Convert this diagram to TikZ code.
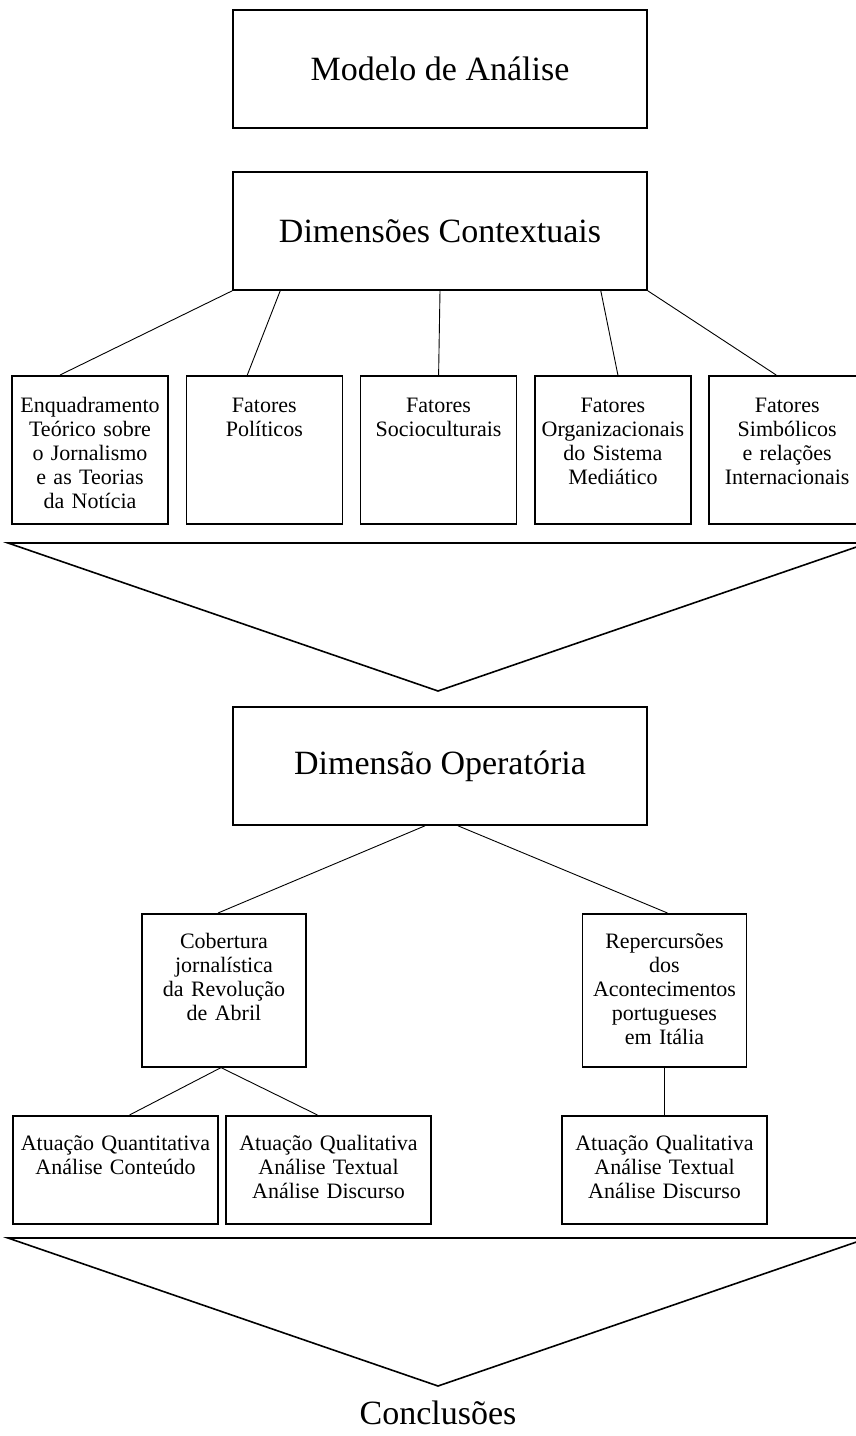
\documentclass[tikz,border=0pt]{standalone}
\usepackage{fontspec}
\setmainfont{Liberation Serif}
\usetikzlibrary{calc}
\usetikzlibrary{positioning}

\tikzset{
  bigbox/.style={draw, line width=1.6pt, minimum width=414pt, minimum height=118pt, inner sep=0pt, font=\fontsize{34}{40}\selectfont},
  factor/.style={draw, line width=1.6pt, anchor=north, text width=150pt, align=center, inner xsep=3pt, inner ysep=0pt, text height=37pt, text depth=111pt, font=\fontsize{22}{24}\selectfont},
  theme/.style={factor, text width=158pt, text height=35pt, text depth=118pt},
  method/.style={factor, text width=199pt, text height=35pt, text depth=73pt},
  link/.style={line width=0.9pt},
  funnel/.style={line width=1.6pt}
}

\begin{document}
\begin{tikzpicture}[x=1pt, y=-1pt]
\useasboundingbox (0,0) rectangle (856,1436);
\clip (0,0) rectangle (856,1436);
% top
\node[bigbox] (modelo) at (440,69) {Modelo de Análise};
\node[bigbox] (dc) at (440,231) {Dimensões Contextuais};
% contextual factors
\node[factor] (f1) at (90,375) {Enquadramento\\Teórico sobre\\o Jornalismo\\e as Teorias\\da Notícia};
\node[factor, right=16.7pt of f1] (f2) {Fatores\\Políticos};
\node[factor, right=16.7pt of f2] (f3) {Fatores\\Socioculturais};
\node[factor, right=16.7pt of f3] (f4) {Fatores\\Organizacionais\\do Sistema\\Mediático};
\node[factor, right=16.7pt of f4] (f5) {Fatores\\Simbólicos\\e relações\\Internacionais};
\draw[link] (dc.south west) -- ($(f1.north)+(-30,0)$);
\draw[link] ($(dc.south west)+(48,0)$) -- ($(f2.north)+(-17,0)$);
\draw[link] (dc.south) -- (f3.north);
\draw[link] ($(dc.south east)+(-47,0)$) -- ($(f4.north)+(5,0)$);
\draw[link] (dc.south east) -- ($(f5.north)+(-11,0)$);
% first funnel
\coordinate (t1l) at (8,543);
\coordinate (t1r) at (868,543);
\coordinate (t1v) at (438,691);
\draw[funnel] (t1l) -- (t1r) -- (t1v) -- cycle;
% operative dimension
\node[bigbox] (op) at (440,766) {Dimensão Operatória};
\node[theme] (cob) at (224,913) {Cobertura\\jornalística\\da Revolução\\de Abril};
\node[theme] (rep) at (664.5,913) {Repercursões\\dos\\Acontecimentos\\portugueses\\em Itália};
\draw[link] ($(op.south)+(-15,0)$) -- ($(cob.north)+(-6,0)$);
\draw[link] ($(op.south)+(18,0)$) -- ($(rep.north)+(3,0)$);
\node[method] (ma) at (115.5,1115) {Atuação Quantitativa\\Análise Conteúdo};
\node[method, right=6.4pt of ma] (mb) {Atuação Qualitativa\\Análise Textual\\Análise Discurso};
\node[method] (mc) at (664.5,1115) {Atuação Qualitativa\\Análise Textual\\Análise Discurso};
\draw[link] ($(cob.south)+(-3,0)$) -- ($(ma.north)+(14,0)$);
\draw[link] ($(cob.south)+(-3,0)$) -- ($(mb.north)+(-11,0)$);
\draw[link] (rep.south) -- (mc.north);
% second funnel
\coordinate (t2l) at (8,1238);
\coordinate (t2r) at (868,1238);
\coordinate (t2v) at (438,1386);
\draw[funnel] (t2l) -- (t2r) -- (t2v) -- cycle;
\node[font=\fontsize{34}{40}\selectfont] (concl) at (438,1413) {Conclusões};
\end{tikzpicture}
\end{document}
